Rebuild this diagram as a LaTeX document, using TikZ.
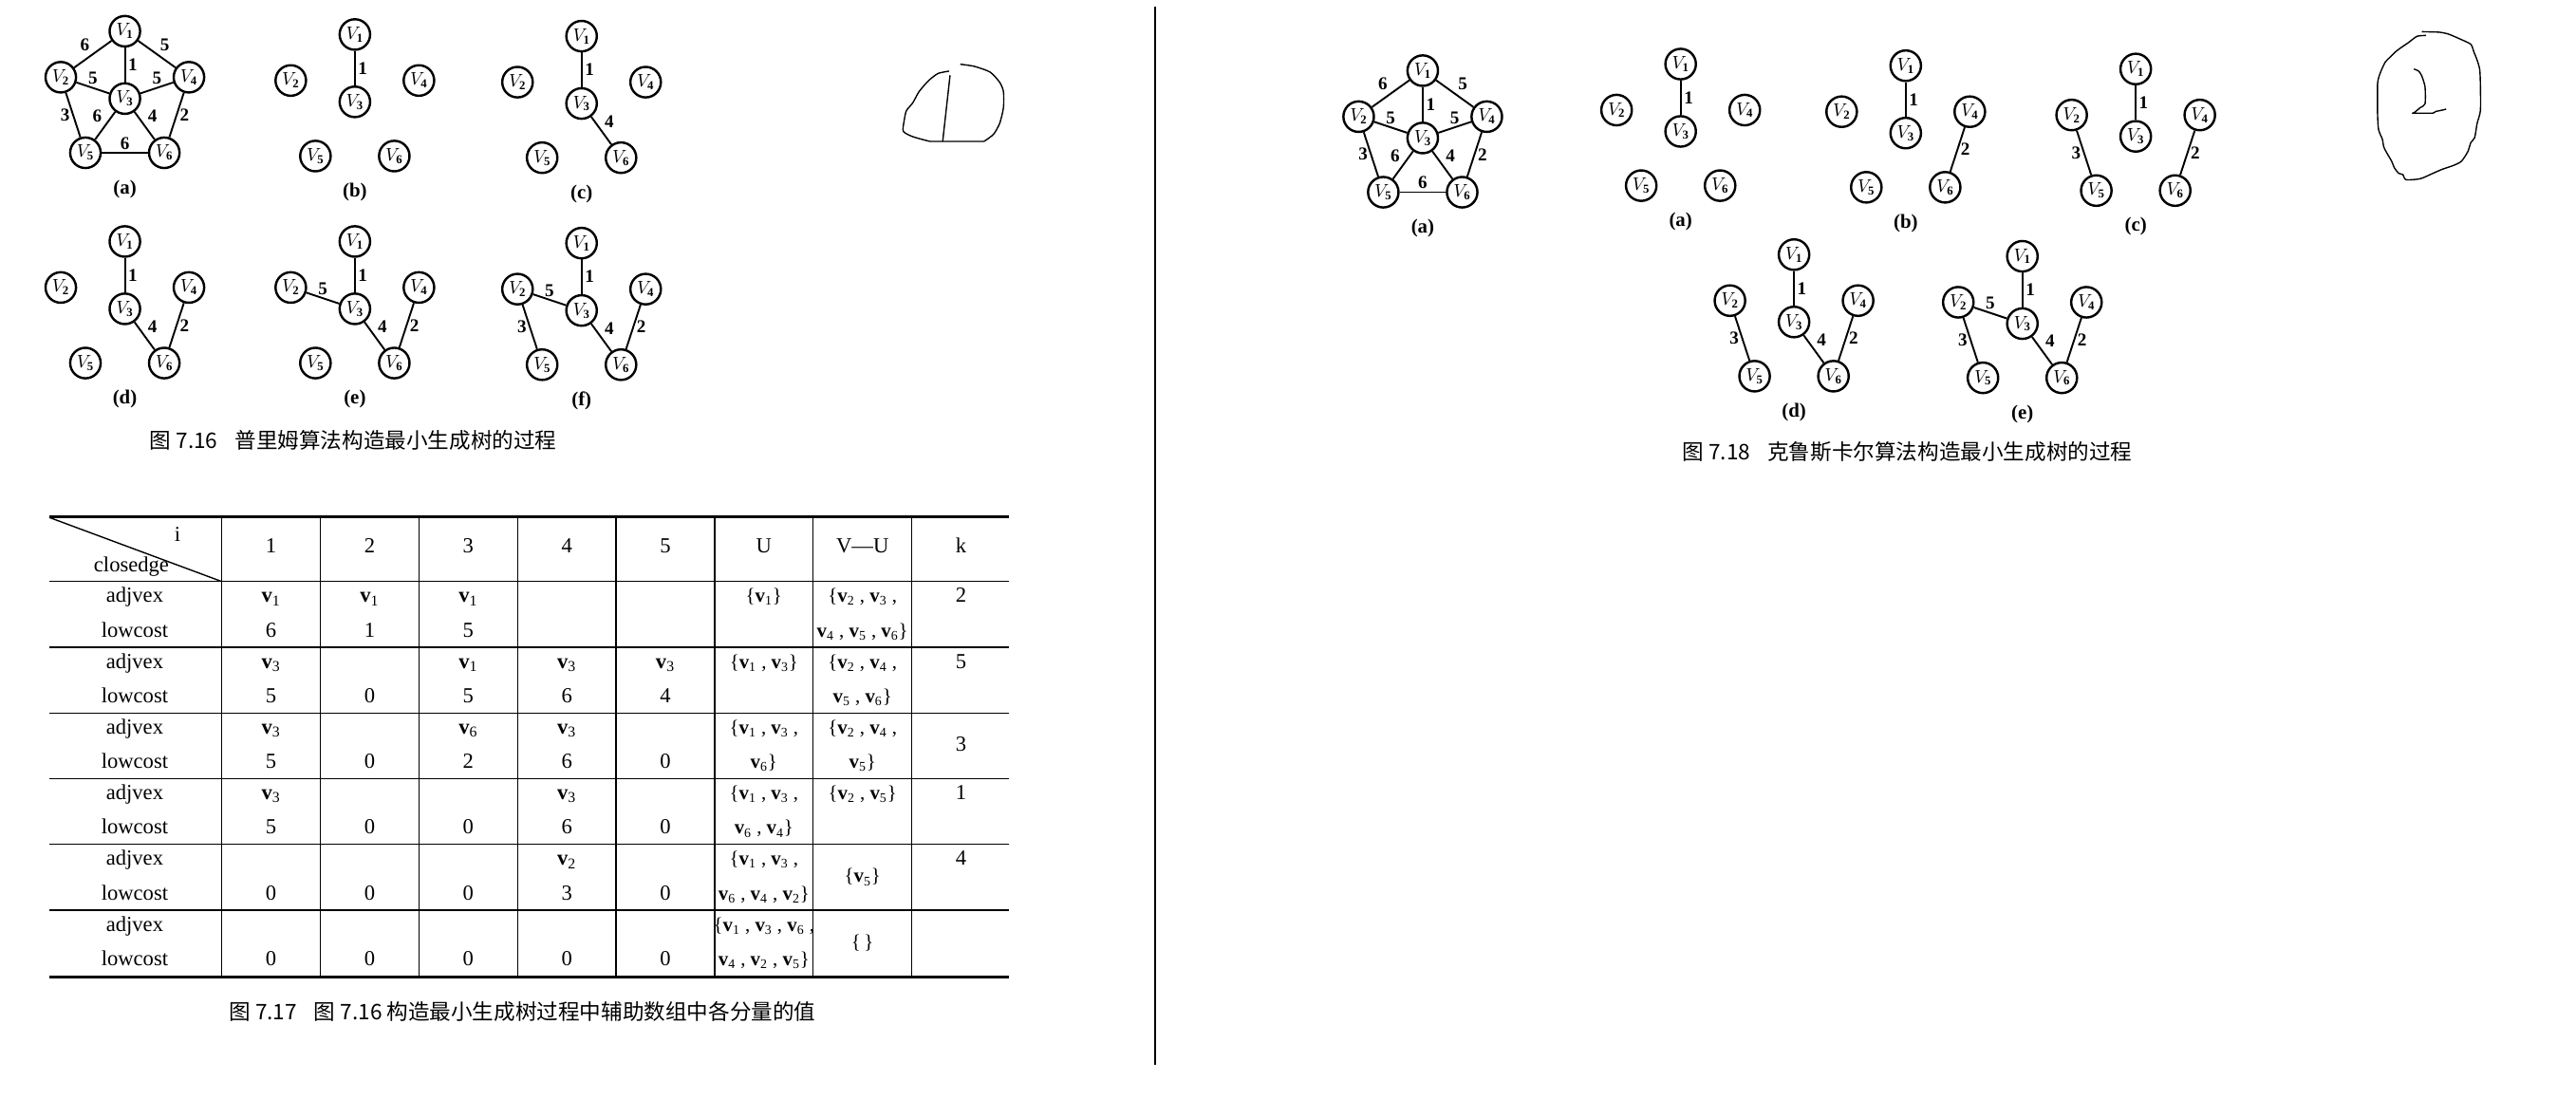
\documentclass[tikz,border=0pt]{standalone}
\usepackage{fontspec}
\setmainfont{Liberation Serif}
\newfontfamily\cjk{Noto Sans CJK SC}
\usepackage{tikz}
\newcommand{\vv}[1]{\textbf{v}\textsubscript{#1}}

\begin{document}
\begin{tikzpicture}[x=0.035cm, y=-0.035cm, every node/.style={font=\fontsize{13}{15}\selectfont}]
    \tikzstyle{vtx} = [circle, draw, line width=1.4pt, minimum size=0.65cm, inner sep=0pt, font=\fontsize{10.5}{12}\selectfont]
    \tikzstyle{edge} = [line width=1.1pt]
    \tikzstyle{wt} = [inner sep=1.5pt, font=\fontsize{11}{13}\selectfont\bfseries]
    \tikzstyle{subcap} = [font=\fontsize{12}{14}\selectfont\bfseries]
    \tikzstyle{figcap} = [font=\fontsize{13}{15}\selectfont\cjk]
    \tikzstyle{cell} = [inner sep=0pt, text height=1.6ex, text depth=0.4ex]
    \tikzstyle{setcell} = [cell, font=\fontsize{12}{14}\selectfont]
    \tikzstyle{hand} = [line width=0.8pt, line join=round]

    \useasboundingbox (0,0) rectangle (1568,669);

    % vertices of all graphs
    \foreach \g/\x/\y/\lbl in {la/76/19/a, lb/216/21/b, lc/354/22/c, ld/76/147/d, le/216/147/e, lf/354/148/f,
                               ra/866/43/a, rb/1023/39/a, rc/1160/40/b, rd/1300/42/c, re/1092/155/d, rf/1231/156/e} {
        \node[vtx] (\g1) at (\x,\y) {$V_{\mathbf{1}}$};
        \node[vtx] (\g2) at (\x-39,\y+28) {$V_{\mathbf{2}}$};
        \node[vtx] (\g3) at (\x,\y+41) {$V_{\mathbf{3}}$};
        \node[vtx] (\g4) at (\x+39,\y+28) {$V_{\mathbf{4}}$};
        \node[vtx] (\g5) at (\x-24,\y+74) {$V_{\mathbf{5}}$};
        \node[vtx] (\g6) at (\x+24,\y+74) {$V_{\mathbf{6}}$};
        \node[subcap] (\g-lbl) at (\x,\y+96) {(\lbl)};
    }

    % edges
    \foreach \g in {la,lb,lc,ld,le,lf,ra,rb,rc,rd,re,rf}
        \draw[edge] (\g1) -- node[wt, right] {1} (\g3);
    \foreach \g in {la,lc,ld,le,lf,ra,re,rf}
        \draw[edge] (\g3) -- node[wt, above right] {4} (\g6);
    \foreach \g in {la,ld,le,lf,ra,rc,rd,re,rf}
        \draw[edge] (\g4) -- node[wt, right] {2} (\g6);
    \foreach \g in {la,le,lf,ra,rf}
        \draw[edge] (\g2) -- node[wt, above] {5} (\g3);
    \foreach \g in {la,lf,ra,rd,re,rf}
        \draw[edge] (\g2) -- node[wt, left] {3} (\g5);
    \foreach \g in {la,ra} {
        \draw[edge] (\g1) -- node[wt, above left] {6} (\g2);
        \draw[edge] (\g1) -- node[wt, above right] {5} (\g4);
        \draw[edge] (\g3) -- node[wt, above] {5} (\g4);
        \draw[edge] (\g3) -- node[wt, above left] {6} (\g5);
        \draw[edge] (\g5) -- node[wt, above] {6} (\g6);
    }

    \node[figcap] (cap716) at (215,268) {图 7.16\hspace{0.8em}普里姆算法构造最小生成树的过程};
    \node[figcap] (cap718) at (1161,275) {图 7.18\hspace{0.8em}克鲁斯卡尔算法构造最小生成树的过程};

    % table
    \draw[line width=1.6pt] (30,314.5) -- (614,314.5);
    \draw[line width=1.6pt] (30,595) -- (614,595);
    \foreach \yy in {354,394,434,474,514,554}
        \draw[line width=0.8pt] (30,\yy) -- (614,\yy);
    \foreach \xx in {135,195,255,315,375,435,495,555}
        \draw[line width=0.8pt] (\xx,314.5) -- (\xx,595);
    \draw[line width=0.8pt] (30,315) -- (135,354);

    \node (hd-i) at (108,325) {i};
    \node (hd-ce) at (80,345) {closedge};
    \foreach \lbl [count=\col] in {1,2,3,4,5,U,V—U,k}
        \node[cell] (hd-\col) at (105+60*\col,334) {\lbl};

    \foreach \rr in {1,...,6} {
        \node[cell] (adj-\rr) at (82,324+40*\rr) {adjvex};
        \node[cell] (low-\rr) at (82,345+40*\rr) {lowcost};
    }
    \foreach \rr/\col/\val in {1/1/1, 1/2/1, 1/3/1, 2/1/3, 2/3/1, 2/4/3, 2/5/3, 3/1/3, 3/3/6, 3/4/3, 4/1/3, 4/4/3, 5/4/2}
        \node[cell] (a-\rr-\col) at (105+60*\col,324+40*\rr) {\vv{\val}};
    \foreach \rr/\col/\val in {1/1/6, 1/2/1, 1/3/5,
                               2/1/5, 2/2/0, 2/3/5, 2/4/6, 2/5/4,
                               3/1/5, 3/2/0, 3/3/2, 3/4/6, 3/5/0,
                               4/1/5, 4/2/0, 4/3/0, 4/4/6, 4/5/0,
                               5/1/0, 5/2/0, 5/3/0, 5/4/3, 5/5/0,
                               6/1/0, 6/2/0, 6/3/0, 6/4/0, 6/5/0}
        \node[cell] (l-\rr-\col) at (105+60*\col,345+40*\rr) {\val};

    \node[setcell] (u-1) at (465,364) {\{\vv{1}\}};
    \node[setcell] (vu-1a) at (525,364) {\{\vv{2} , \vv{3} ,};
    \node[setcell] (vu-1b) at (525,385) {\vv{4} , \vv{5} , \vv{6}\}};
    \node[cell] (k-1) at (585,364) {2};

    \node[setcell] (u-2) at (465,404) {\{\vv{1} , \vv{3}\}};
    \node[setcell] (vu-2a) at (525,404) {\{\vv{2} , \vv{4} ,};
    \node[setcell] (vu-2b) at (525,425) {\vv{5} , \vv{6}\}};
    \node[cell] (k-2) at (585,404) {5};

    \node[setcell] (u-3a) at (465,444) {\{\vv{1} , \vv{3} ,};
    \node[setcell] (u-3b) at (465,465) {\vv{6}\}};
    \node[setcell] (vu-3a) at (525,444) {\{\vv{2} , \vv{4} ,};
    \node[setcell] (vu-3b) at (525,465) {\vv{5}\}};
    \node[cell] (k-3) at (585,454.5) {3};

    \node[setcell] (u-4a) at (465,484) {\{\vv{1} , \vv{3} ,};
    \node[setcell] (u-4b) at (465,505) {\vv{6} , \vv{4}\}};
    \node[setcell] (vu-4) at (525,484) {\{\vv{2} , \vv{5}\}};
    \node[cell] (k-4) at (585,484) {1};

    \node[setcell] (u-5a) at (465,524) {\{\vv{1} , \vv{3} ,};
    \node[setcell] (u-5b) at (465,545) {\vv{6} , \vv{4} , \vv{2}\}};
    \node[setcell] (vu-5) at (525,534.5) {\{\vv{5}\}};
    \node[cell] (k-5) at (585,524) {4};

    \node[setcell] (u-6a) at (465,564) {\{\vv{1} , \vv{3} , \vv{6} ,};
    \node[setcell] (u-6b) at (465,585) {\vv{4} , \vv{2} , \vv{5}\}};
    \node[setcell] (vu-6) at (525,574.5) {\{\,\}};

    \node[figcap] (cap717) at (318,616) {图 7.17\hspace{0.8em}图 7.16 构造最小生成树过程中辅助数组中各分量的值};

    % page divider
    \draw[line width=1.5pt] (703,4) -- (703,648);

    % hand-drawn marks
    \draw[hand] plot[smooth, tension=0.4] coordinates {(577.7,43.3) (571.0,44.7) (565.2,49.1) (559.4,55.8) (555.6,62.6) (551.7,67.4) (550.4,73.2) (549.8,79.9) (555.6,83.2) (566.1,86.1)}
        -- (598.9,86.1) -- plot[smooth, tension=0.4] coordinates {(598.9,86.1) (604.7,81.8) (608.5,75.1) (610.8,65.5) (610.8,55.8) (608.5,50.1) (602.7,43.9) (593.1,40.4) (584.5,39.1)};
    \draw[hand] (578.3,45.8) -- (573.8,86.1);
    \draw[hand] plot[smooth, tension=0.4] coordinates {(1474.1,19.3) (1484.7,19.6) (1490.5,20.8) (1498.2,24.1) (1504.0,27.0) (1505.9,31.8) (1507.8,36.6) (1509.4,42.4) (1509.8,52.0) (1509.8,67.4) (1507.8,75.1) (1506.3,83.8) (1504.0,86.7) (1502.1,92.4) (1498.2,98.2) (1493.4,100.7) (1486.7,103.0) (1480.9,105.5) (1473.2,108.8) (1464.5,109.4) (1462.6,106.3) (1460.1,105.5) (1457.4,102.1) (1455.8,98.2) (1453.0,93.4) (1451.0,89.5) (1450.1,84.7) (1447.8,78.9) (1447.2,69.3) (1447.2,51.0) (1448.5,45.3) (1450.1,41.4) (1452.0,37.6) (1454.9,34.7) (1457.8,31.8) (1461.6,28.9) (1465.9,26.0) (1471.2,22.1) (1476.6,21.6)};
    \draw[hand] plot[smooth, tension=0.4] coordinates {(1469.3,42.0) (1472.2,43.3) (1474.1,46.2) (1476.1,52.9) (1476.1,63.2) (1473.2,65.5) (1469.7,68.4) (1468.4,68.9)}
        -- (1480.9,68.9) -- (1482.8,67.8) -- (1486.7,67.0) -- (1489.0,66.4);
\end{tikzpicture}
\end{document}
